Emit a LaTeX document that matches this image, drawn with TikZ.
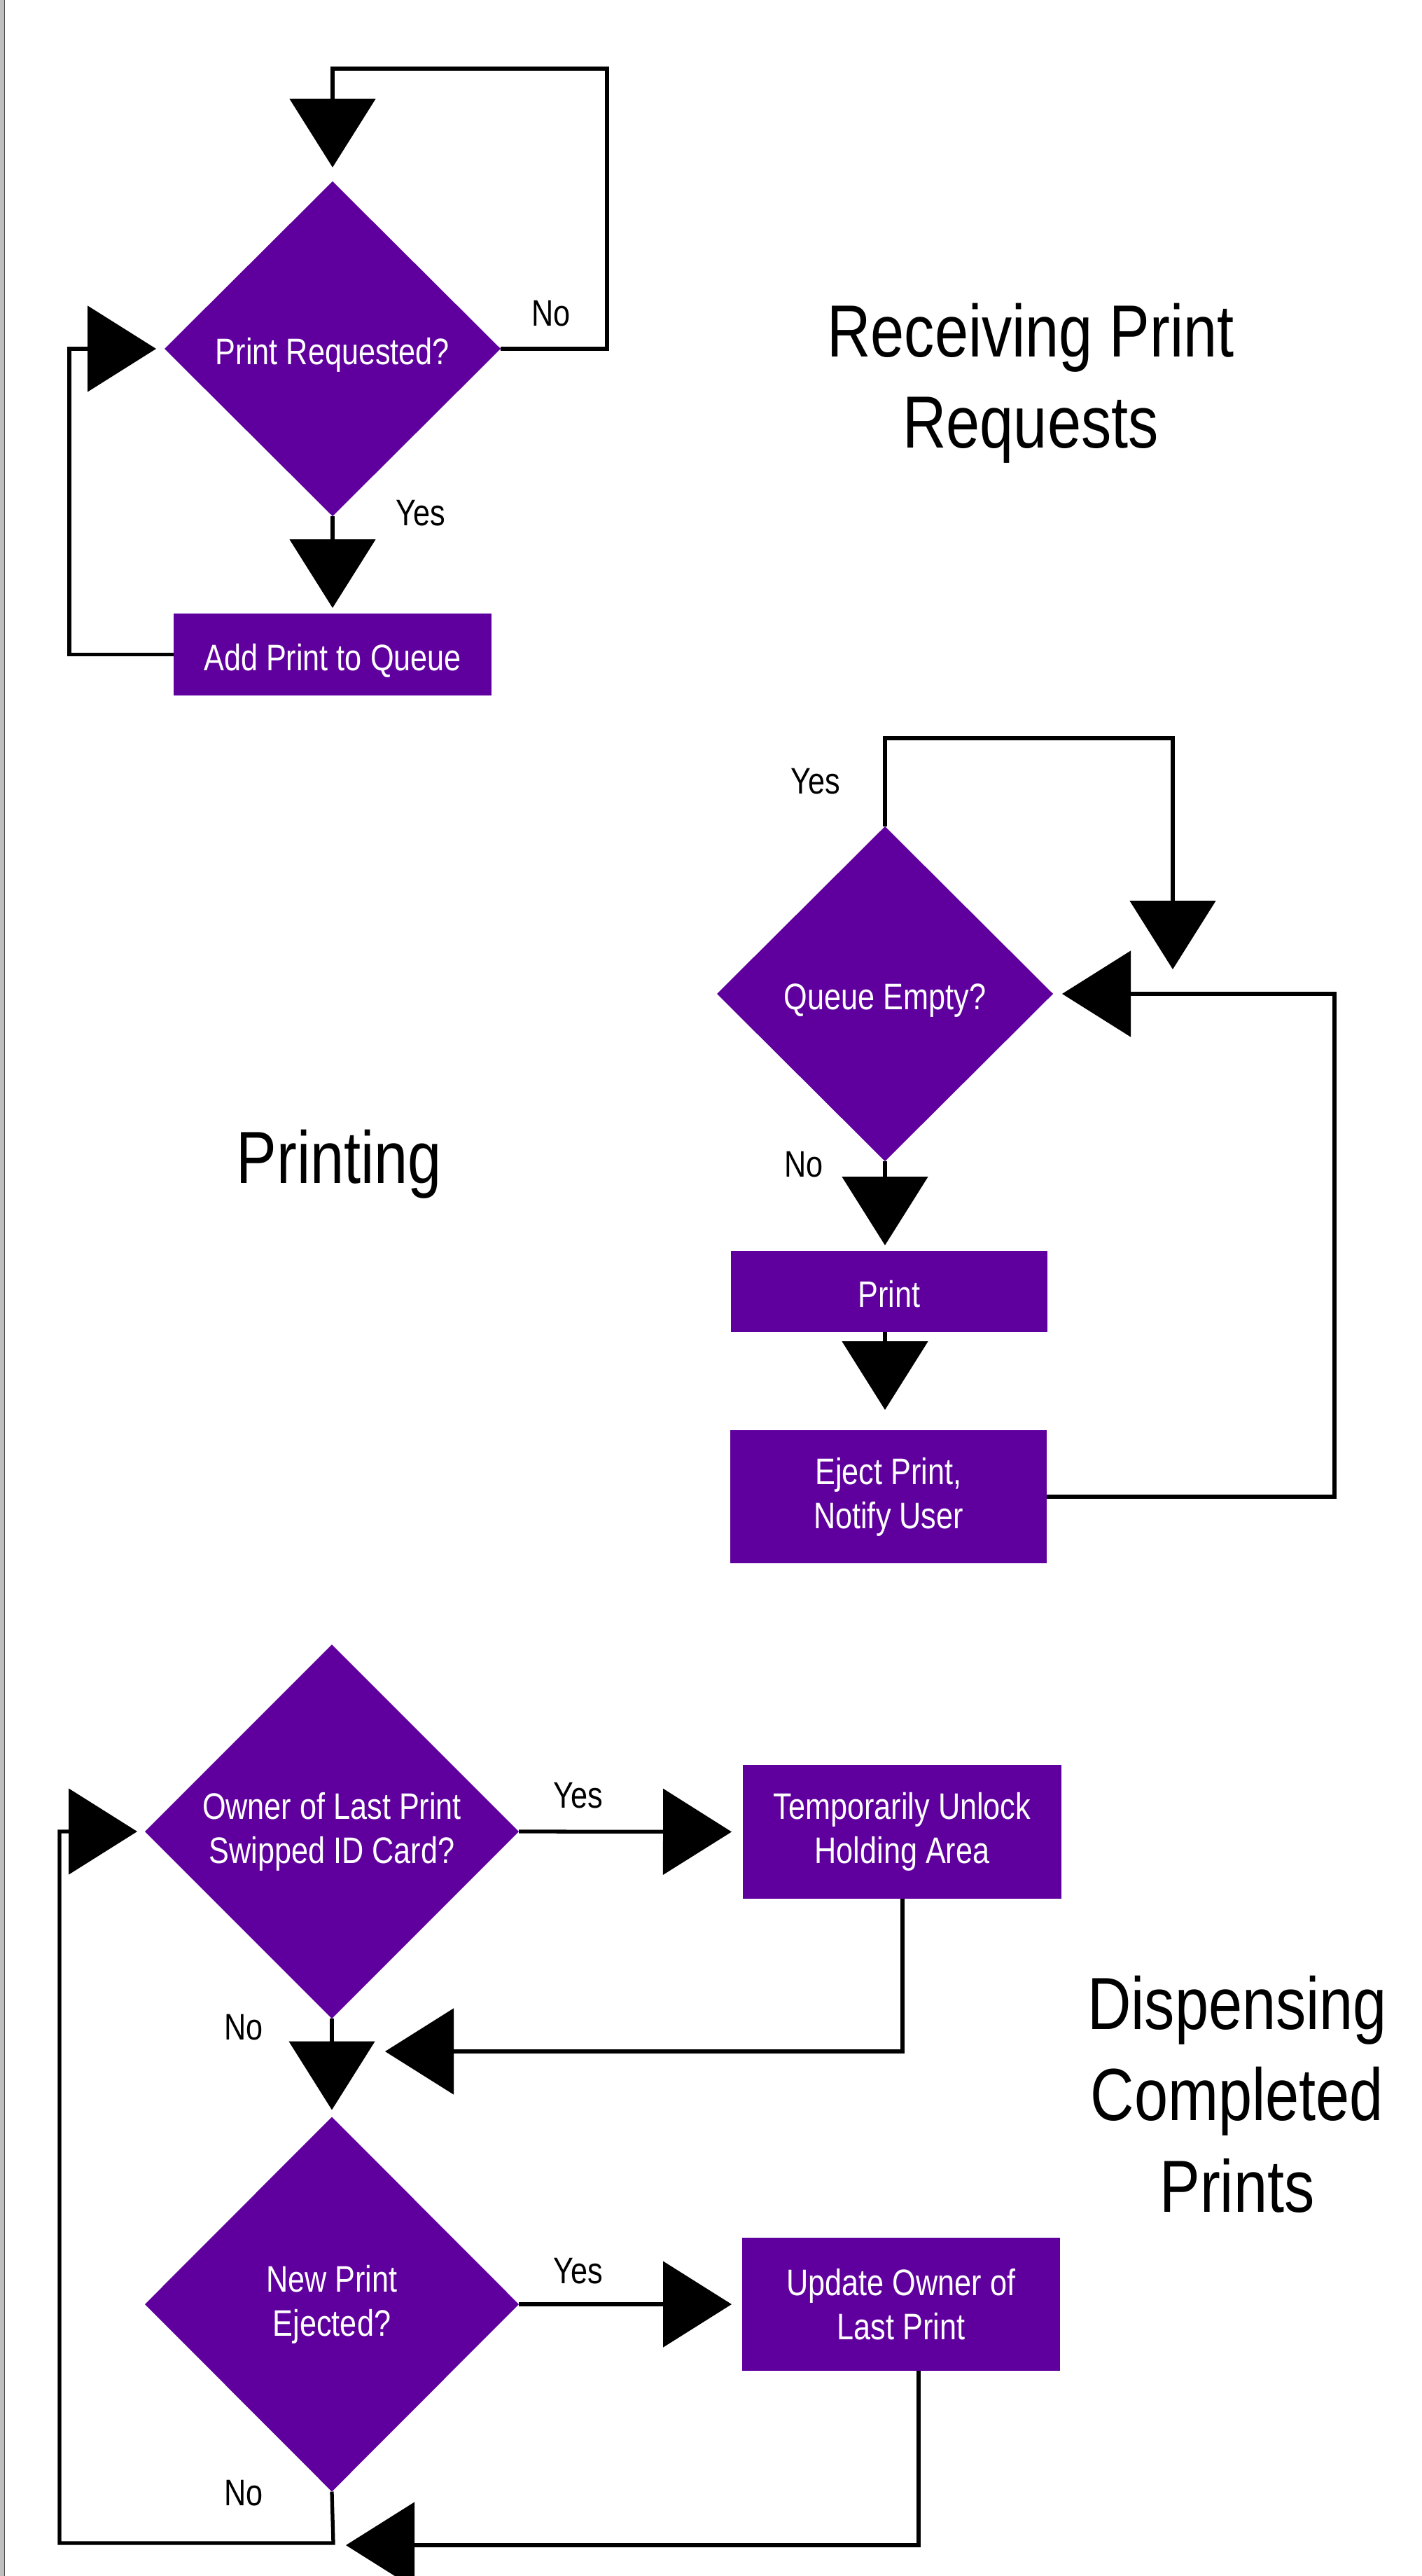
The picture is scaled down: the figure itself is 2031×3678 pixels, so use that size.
\documentclass[tikz,border=0pt]{standalone}
\usepackage{fontspec}
\setmainfont{Liberation Sans}[FakeStretch=0.82]
\usetikzlibrary{shapes.geometric,arrows.meta}
\definecolor{pp}{RGB}{95,0,158}
\begin{document}
\begin{tikzpicture}[x=0.1mm,y=-0.1mm,
  dia/.style={diamond, fill=pp, text=white, inner sep=0pt, outer sep=0pt, minimum width=48mm, minimum height=47.8mm, align=center, font=\fontsize{15}{18}\selectfont},
  proc/.style={rectangle, fill=pp, text=white, inner sep=0pt, outer sep=0pt, align=center, font=\fontsize{15}{18}\selectfont},
  one/.style={text height=13pt, text depth=0pt},
  lbl/.style={anchor=base, inner sep=0pt, font=\fontsize{15}{18}\selectfont},
  ttl/.style={anchor=base, inner sep=0pt, align=center, font=\fontsize{30}{37}\selectfont},
  arr/.style={line width=1.5pt, -{Triangle[width=12.2mm,length=9.8mm]}}]
\useasboundingbox (0,0) rectangle (2031,3678);
\fill[white] (0,0) rectangle (2031,3678);
\fill[black!25] (0,0) rectangle (6,3678);
\draw[line width=0.4pt, black!70] (6.5,0) -- (6.5,3678);

% nodes
\node[dia, one] (d1) at (475,498) {Print Requested?};
\node[proc, one, minimum width=45.4mm, minimum height=11.7mm] (b1) at (475,934.5) {Add Print to Queue};
\node[dia, one] (d2) at (1264,1419) {Queue Empty?};
\node[proc, one, minimum width=45.2mm, minimum height=11.6mm] (b2) at (1270,1844) {Print};
\node[proc, minimum width=45.2mm, minimum height=19mm] (b3) at (1269,2137) {Eject Print,\\Notify User};
\node[dia, minimum width=53.4mm, minimum height=53.4mm] (d3) at (474,2615) {Owner of Last Print\\Swipped ID Card?};
\node[proc, minimum width=45.5mm, minimum height=19.1mm] (b4) at (1288.5,2615.5) {Temporarily Unlock\\Holding Area};
\node[dia, minimum width=53.4mm, minimum height=53.5mm] (d4) at (474,3290) {New Print\\Ejected?};
\node[proc, minimum width=45.4mm, minimum height=19mm] (b5) at (1287,3290) {Update Owner of\\Last Print};

% labels
\node[lbl] (no1) at (787,466) {No};
\node[lbl] (yes1) at (601,751) {Yes};
\node[lbl] (yes2) at (1165,1133) {Yes};
\node[lbl] (no2) at (1148,1680) {No};
\node[lbl] (yes3) at (826,2581) {Yes};
\node[lbl] (no3) at (348,2912) {No};
\node[lbl] (yes4) at (826,3260) {Yes};
\node[lbl] (no4) at (348,3577) {No};

% titles (base anchor = baseline of the last line)
\node[ttl] (t1) at (1472,640) {Receiving Print\\Requests};
\node[ttl] (t2) at (484.5,1689) {Printing};
\node[ttl] (t3) at (1767,3158) {Dispensing\\Completed\\Prints};

% section 1
\coordinate (c1a) at (867,498);
\coordinate (c1b) at (867,98);
\draw[arr, shorten >=2mm] (d1.east) -- (c1a) -- (c1b) -| (d1.north);
\draw[arr, shorten >=0.8mm] (d1.south) -- (b1.north);
\coordinate (c1c) at (99,934.5);
\draw[arr, shorten >=1.2mm] (b1.west) -- (c1c) |- (d1.west);

% section 2
\coordinate (c2a) at (1264,1054);
\coordinate (c2b) at (1675,1054);
\coordinate (c2tip) at (1675,1384);
\draw[arr] (d2.north) -- (c2a) -- (c2b) -- (c2tip);
\coordinate (c2c) at (1906,2137);
\draw[arr, shorten >=1.3mm] (b3.east) -- (c2c) |- (d2.east);
\draw[arr, shorten >=0.8mm] (d2.south) -- (d2.south |- b2.north);
\draw[arr, shorten >=2.9mm] (d2.south |- b2.south) -- (d2.south |- b3.north);

% section 3
\draw[arr, shorten >=1.6mm] (d3.east) -- (b4.west);
\coordinate (c3a) at (1289,2929);
\coordinate (c3tip) at (550,2929);
\draw[arr] (c3a |- b4.south) -- (c3a) -- (c3tip);
\draw[arr, shorten >=1mm] (d3.south) -- (d4.north);
\draw[arr, shorten >=1.5mm] (d4.east) -- (b5.west);
\coordinate (c3b) at (1312,3634);
\coordinate (c3tip2) at (494,3634);
\draw[arr] (c3b |- b5.south) -- (c3b) -- (c3tip2);
\coordinate (c3c) at (476,3631);
\coordinate (c3d) at (85,3631);
\coordinate (c3e) at (85,2615);
\draw[arr, shorten >=1.1mm] (d4.south) -- (c3c) -- (c3d) -- (c3e) -- (d3.west);
\end{tikzpicture}
\end{document}
